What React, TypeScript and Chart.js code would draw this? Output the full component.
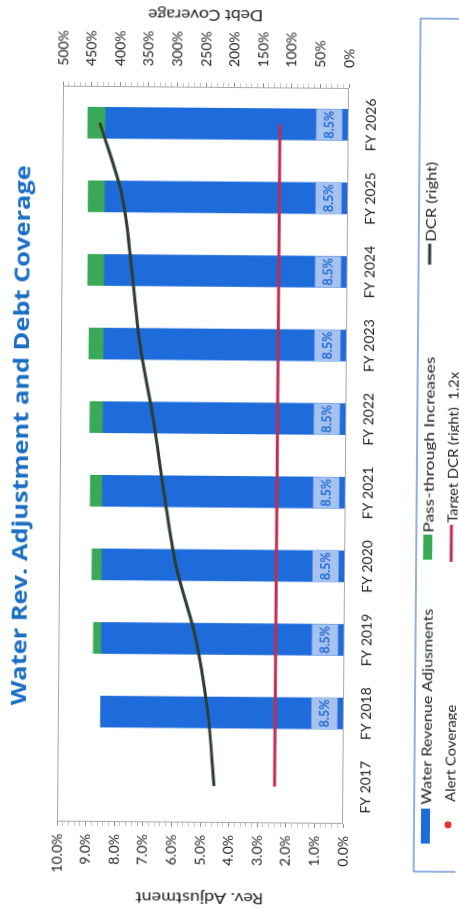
import React, { useEffect, useRef } from 'react';
import { Chart, registerables } from 'chart.js';

Chart.register(...registerables);

// ---- data ----
const categories = ['FY 2017', 'FY 2018', 'FY 2019', 'FY 2020', 'FY 2021', 'FY 2022', 'FY 2023', 'FY 2024', 'FY 2025', 'FY 2026'];
const waterRevenueAdjustments = [null, 8.5, 8.5, 8.5, 8.5, 8.5, 8.5, 8.5, 8.5, 8.5];
const passThroughIncreases = [null, 0, 0.28, 0.35, 0.43, 0.47, 0.52, 0.58, 0.59, 0.62];
const dcrRight = [2.26, 2.38, 2.6, 2.96, 3.18, 3.38, 3.62, 3.77, 3.95, 4.35];
const targetDcrRight = [1.2, 1.2, 1.2, 1.2, 1.2, 1.2, 1.2, 1.2, 1.2, 1.2];
const alertCoverage = [null, null, null, null, null, null, null, null, null, null];

const revAdjAxis = { min: 0, max: 10, major: 1, minor: 0.2 };
const debtCovAxis = { min: 0, max: 5, major: 0.5, minor: 0.1 };

const seriesLabels = ['Water Revenue Adjusments', 'Pass-through Increases', 'DCR (right)', 'Alert Coverage', 'Target DCR (right)  1.2x'];
const chartTitle = 'Water Rev. Adjustment and Debt Coverage';
const leftAxisTitle = 'Rev. Adjustment';
const rightAxisTitle = 'Debt Coverage';

const isMultiple = (v: number, step: number) => Math.abs(v / step - Math.round(v / step)) < 1e-6;

function drawText(ctx: CanvasRenderingContext2D, text: string, x: number, y: number, font: string, color: string, align: CanvasTextAlign, width?: number, rotate?: number) {
  ctx.save();
  ctx.translate(x, y);
  if (rotate) ctx.rotate(rotate);
  ctx.font = font;
  ctx.fillStyle = color;
  ctx.textAlign = align;
  ctx.textBaseline = 'alphabetic';
  if (width) {
    const w = ctx.measureText(text).width;
    if (w > 0) ctx.scale(width / w, 1);
  }
  ctx.fillText(text, 0, 0);
  ctx.restore();
}

const decorPlugin = {
  id: 'decor',
  afterDatasetsDraw(chart: any) {
    const ctx: CanvasRenderingContext2D = chart.ctx;
    const meta = chart.getDatasetMeta(0);
    const ds = chart.data.datasets[0];
    meta.data.forEach((bar: any, i: number) => {
      const v = ds.data[i];
      if (v == null) return;
      const w = bar.width;
      ctx.save();
      ctx.fillStyle = '#a8c2ef';
      ctx.fillRect(bar.x - w / 2, bar.base - 32, w, 26);
      ctx.restore();
      drawText(ctx, v.toFixed(1) + '%', bar.x, bar.base - 14.5, 'bold 12.5px Lato', '#1c6bd6', 'center');
    });
  },
  afterDraw(chart: any) {
    const ctx: CanvasRenderingContext2D = chart.ctx;
    const ca = chart.chartArea;
    // plot border
    ctx.save();
    ctx.strokeStyle = '#a9a9a9';
    ctx.lineWidth = 1;
    ctx.strokeRect(ca.left + 0.5, ca.top + 0.5, ca.right - ca.left - 1, ca.bottom - ca.top - 1);
    ctx.restore();

    // chart title
    drawText(ctx, chartTitle, 474, 28, 'bold 21px "Open Sans"', '#1b6ec4', 'center', 540);
    // axis titles (both read bottom-to-top)
    drawText(ctx, leftAxisTitle, 18, 203, '15px Lato', '#222', 'center', 128, -Math.PI / 2);
    drawText(ctx, rightAxisTitle, 901, 202, '15px Lato', '#222', 'center', 115, -Math.PI / 2);

    // legend
    const dsets = chart.data.datasets;
    ctx.save();
    ctx.strokeStyle = '#6f98d6';
    ctx.lineWidth = 1.5;
    ctx.strokeRect(41, 417, 853, 60);
    ctx.restore();

    const font = '14px Lato';
    const col = '#222';
    // Water revenue adjustments
    ctx.fillStyle = dsets[0].backgroundColor;
    ctx.fillRect(69, 424, 35, 9);
    drawText(ctx, dsets[0].label, 108, 433.5, font, col, 'left', 196);
    // Pass-through
    ctx.fillStyle = dsets[1].backgroundColor;
    ctx.fillRect(353, 424, 25, 9);
    drawText(ctx, dsets[1].label, 380, 433.5, font, col, 'left', 176);
    // DCR line
    ctx.save();
    ctx.strokeStyle = dsets[2].borderColor;
    ctx.lineWidth = 3;
    ctx.beginPath(); ctx.moveTo(648, 428); ctx.lineTo(669, 428); ctx.stroke();
    ctx.restore();
    drawText(ctx, dsets[2].label, 671, 433.5, font, col, 'left', 80);
    // Alert coverage dot
    ctx.save();
    ctx.fillStyle = dsets[3].backgroundColor;
    ctx.beginPath(); ctx.arc(88, 451, 3.5, 0, Math.PI * 2); ctx.fill();
    ctx.restore();
    drawText(ctx, dsets[3].label, 111, 457.5, font, col, 'left', 97);
    // Target DCR
    ctx.save();
    ctx.strokeStyle = dsets[4].borderColor;
    ctx.lineWidth = 3;
    ctx.beginPath(); ctx.moveTo(351, 452); ctx.lineTo(388, 452); ctx.stroke();
    ctx.restore();
    drawText(ctx, dsets[4].label, 390, 457.5, font, col, 'left', 151);
  },
};

export default function App() {
  const ref = useRef<HTMLCanvasElement | null>(null);
  useEffect(() => {
    if (!ref.current) return;
    const tickFont = { family: 'Lato', size: 14 };
    const chart = new Chart(ref.current, {
      type: 'bar',
      data: {
        labels: categories,
        datasets: [
          { type: 'bar', label: seriesLabels[0], data: waterRevenueAdjustments, backgroundColor: '#1e6cdb', yAxisID: 'y', stack: 'rev', barThickness: 31, order: 1 } as any,
          { type: 'bar', label: seriesLabels[1], data: passThroughIncreases, backgroundColor: '#3aa957', yAxisID: 'y', stack: 'rev', barThickness: 31, order: 1 } as any,
          { type: 'line', label: seriesLabels[2], data: dcrRight, yAxisID: 'y1', borderColor: '#2e3d31', backgroundColor: '#2e3d31', borderWidth: 3, pointRadius: 0, tension: 0.35, fill: false, order: 0 } as any,
          { type: 'line', label: seriesLabels[3], data: alertCoverage, yAxisID: 'y1', borderColor: '#e8322f', backgroundColor: '#e8322f', showLine: false, pointRadius: 4, order: 0 } as any,
          { type: 'line', label: seriesLabels[4], data: targetDcrRight, yAxisID: 'y1', borderColor: '#c22d4c', backgroundColor: '#c22d4c', borderWidth: 3, pointRadius: 0, fill: false, order: 0 } as any,
        ],
      },
      options: {
        responsive: false,
        animation: false,
        events: [],
        layout: { padding: { top: 60, left: 0, right: 0, bottom: 0 } },
        plugins: { legend: { display: false }, title: { display: false }, tooltip: { enabled: false } },
        scales: {
          x: {
            stacked: true,
            grid: { display: false },
            border: { display: false },
            ticks: { font: tickFont, color: '#222', padding: 6, maxRotation: 0, autoSkip: false },
            afterFit: (s: any) => { s.height = 113; },
          },
          y: {
            position: 'left',
            stacked: true,
            min: revAdjAxis.min,
            max: revAdjAxis.max,
            ticks: {
              stepSize: revAdjAxis.minor,
              autoSkip: false,
              font: tickFont,
              color: '#222',
              padding: 8,
              callback: (v: any) => (isMultiple(Number(v), revAdjAxis.major) ? Number(v).toFixed(1) + '%' : ''),
            },
            grid: {
              drawOnChartArea: false,
              tickLength: 4,
              tickColor: (c: any) => (c.tick && isMultiple(c.tick.value, revAdjAxis.major) ? '#8c8c8c' : '#c8c8c8'),
            },
            border: { display: false },
            afterFit: (s: any) => { s.width = 88; },
          } as any,
          y1: {
            position: 'right',
            stacked: false,
            min: debtCovAxis.min,
            max: debtCovAxis.max,
            ticks: {
              stepSize: debtCovAxis.minor,
              autoSkip: false,
              font: tickFont,
              color: '#222',
              padding: 16,
              callback: (v: any) => (isMultiple(Number(v), debtCovAxis.major) ? Math.round(Number(v) * 100) + '%' : ''),
            },
            grid: {
              drawOnChartArea: false,
              tickLength: 4,
              tickColor: (c: any) => (c.tick && isMultiple(c.tick.value, debtCovAxis.major) ? '#8c8c8c' : '#c8c8c8'),
            },
            border: { display: false },
            afterFit: (s: any) => { s.width = 87; },
          } as any,
        },
      },
      plugins: [decorPlugin],
    });
    return () => chart.destroy();
  }, []);

  return (
    <div
      style={{
        position: 'fixed',
        left: (459 - 911) / 2,
        top: (911 - 459) / 2,
        width: 911,
        height: 459,
        background: '#fff',
        transform: 'rotate(-89.53deg)',
        transformOrigin: '50% 50%',
      }}
    >
      <canvas ref={ref} width={911} height={459} style={{ display: 'block', width: 911, height: 459 }} />
    </div>
  );
}
